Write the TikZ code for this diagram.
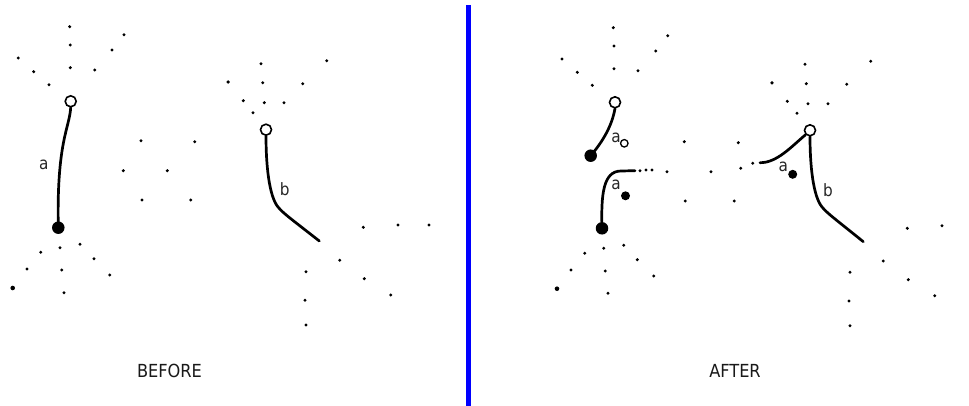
\documentclass[tikz,border=0pt]{standalone}
\usepackage{fontspec}
\newfontfamily\condfont{DejaVu Sans Condensed}
\begin{document}
\begin{tikzpicture}[x=1pt,y=-1pt,
  dotpt/.style={fill=black},
  opencirc/.style={circle,draw=black,line width=1.6pt,fill=white,minimum size=11pt,inner sep=0pt},
  fullcirc/.style={circle,fill=black,minimum size=12.5pt,inner sep=0pt},
  smallopen/.style={circle,draw=black,line width=1.3pt,fill=white,minimum size=7.5pt,inner sep=0pt},
  smallfull/.style={circle,fill=black,minimum size=9pt,inner sep=0pt},
  curve/.style={line width=2.7pt,line cap=round,black},
  lbl/.style={font=\condfont\fontsize{17}{19}\selectfont,anchor=base,inner sep=0pt,text=black!85},
  title/.style={font=\condfont\fontsize{18}{20}\selectfont,anchor=base,inner sep=0pt,text=black!90}]
\useasboundingbox (0,0) rectangle (969,406);
\fill[white] (0,0) rectangle (969,406);
% scattered points
\foreach \x/\y in {69.7/26.7,124/34.7,70.3/45,112/50,18.3/58,33.7/71.7,70.3/67.7,94.7/70,49/84.7,228/82,
  141/140.7,194.7/141.7,123.3/170.7,167.3/170.7,142/200,190.7/200,
  60/247.7,80/244.3,40.7/252.3,94/258.7,27/269,61.7/270,109.7/275,64/292.7,
  261/63.7,326.7/60.7,228.3/82,262.7/82.7,302.7/83.7,243.3/100.7,264.3/102.7,284/102.7,253/112.7,
  363.3/227.3,398/225,429/225,339.7/260.3,306/271.7,364.3/278.7,390.7/295,305/300.3,306/325,
  613.3/27.7,667.7/35.7,614/46,655.7/51,562/59,577.3/72.3,614/68.7,638/70.7,592.3/85.3,772/82.7,
  640/170.7,646/170,652/170,
  684.3/141.7,738.3/142.7,667/171.7,711/171.7,740.7/168.3,752.7/163.3,685.3/201,734.3/201,
  603.7/248.3,623.7/245.3,584.7/253.3,637.3/259.7,571/270,605.3/271,653.7/276,608/293.3,
  805/64.3,870.7/61.3,772/83,806.3/83.7,846.7/84.3,787.3/101.3,808/103.7,828/103.7,797/113.3,
  907.3/228.3,942/225.7,883.3/261,850/272.3,908.3/279.7,934.7/295.7,849/301,850/325.7}
  {\fill[dotpt] (\x,\y) circle (1.65);}
\fill[dotpt] (12.7,288) circle (2.3);
\fill[dotpt] (557,288.7) circle (2.3);
% divider
\draw[blue,line width=5pt] (468.5,5) -- (468.5,406);
% BEFORE
\node[opencirc] (o1) at (70.7,101.3) {};
\node[fullcirc] (f1) at (58.3,227.7) {};
\draw[curve] (o1.south) .. controls (69.5,128) and (56.5,142) .. (f1.center);
\node[lbl] (la1) at (43.7,169.3) {a};
\node[opencirc] (o2) at (266,129.7) {};
\coordinate (e2) at (319.3,241);
\draw[curve] (o2.south) .. controls (266,165) and (269,196) .. (278,207)
  .. controls (284,214) and (290,218) .. (e2);
\node[lbl] (lb1) at (284.7,196) {b};
\node[title] (tb) at (169.5,377.5) {BEFORE};
% AFTER
\node[opencirc] (o3) at (615,102.3) {};
\node[fullcirc] (f3) at (590.7,155.7) {};
\draw[curve] (o3.south) .. controls (612,125) and (604,140) .. (f3.center);
\node[lbl] (la3) at (616,143) {a};
\node[smallopen] (s3) at (624.3,143.3) {};
\node[fullcirc] (f4) at (602,228.3) {};
\coordinate (e4) at (635,170.7);
\draw[curve] (f4.center) .. controls (601,195) and (603,171) .. (621,171) -- (e4);
\node[lbl] (la4) at (616,190) {a};
\node[smallfull] (s4) at (625.5,195.8) {};
\node[opencirc] (o4) at (810,130.3) {};
\coordinate (e5) at (760,162.7);
\draw[curve] (o4.south west) .. controls (792,146) and (777,163) .. (e5);
\node[lbl] (la5) at (783.3,171.5) {a};
\node[smallfull] (s5) at (792.7,174.3) {};
\coordinate (e6) at (863.3,241.7);
\draw[curve] (o4.south) .. controls (810,165) and (813,196) .. (822,207)
  .. controls (828,214) and (834,218) .. (e6);
\node[lbl] (lb4) at (828,197) {b};
\node[title] (ta) at (735,377.5) {AFTER};
\end{tikzpicture}
\end{document}
